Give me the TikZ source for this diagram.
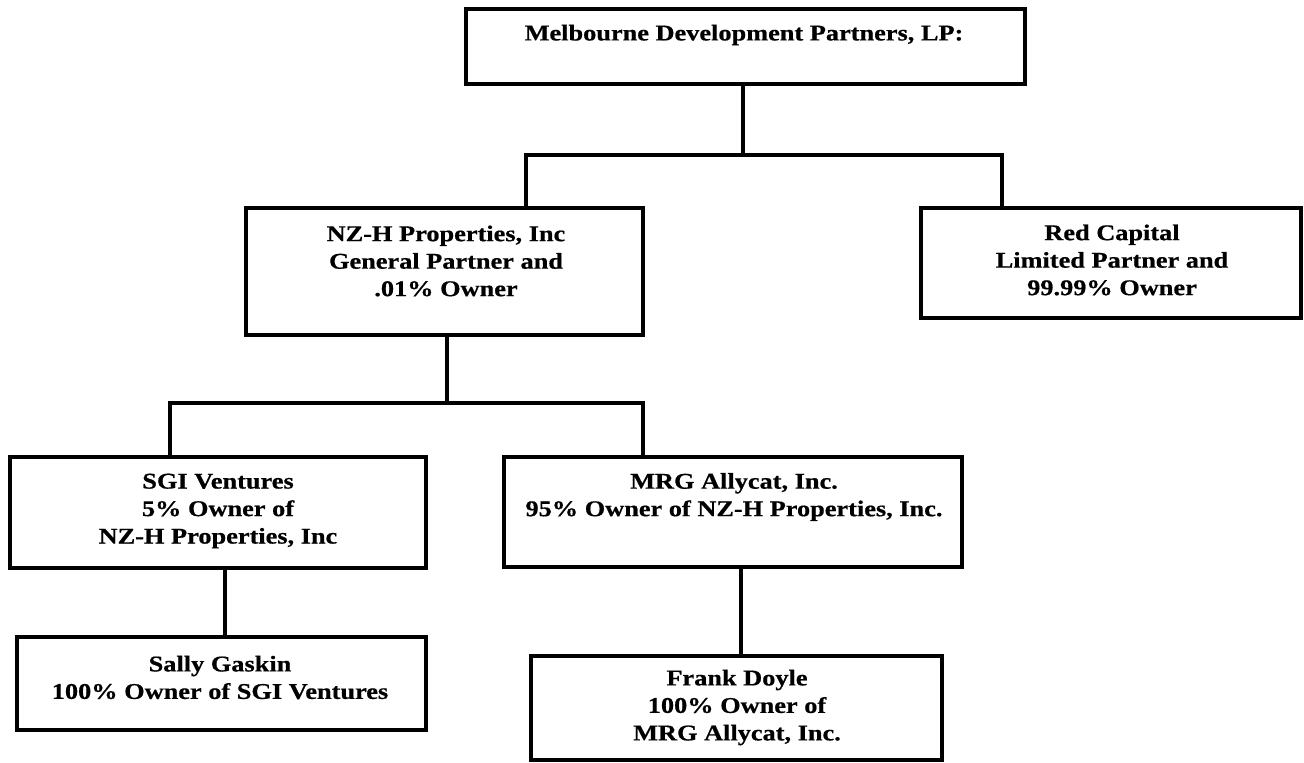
\documentclass[tikz,border=0pt]{standalone}
\usepackage{fontspec}
\setmainfont{Liberation Serif}[BoldFeatures={FakeStretch=1.17,FakeBold=0.6}]
\begin{document}
\begin{tikzpicture}[x=1pt,y=-1pt,
  box/.style={draw, line width=3.2pt, inner sep=0pt},
  lbl/.style={align=center, font=\fontsize{22.5}{27.5}\selectfont\bfseries, inner sep=0pt},
  conn/.style={line width=3.2pt}]
\useasboundingbox (0,0) rectangle (1304,763);
% boxes
\node[box, minimum width=559pt, minimum height=75pt]  (top)   at (745.5,46.5) {};
\node[box, minimum width=397pt, minimum height=127pt] (nzh)   at (444.5,271.5) {};
\node[box, minimum width=380pt, minimum height=110pt] (red)   at (1111,263) {};
\node[box, minimum width=416pt, minimum height=111pt] (sgi)   at (218,512.5) {};
\node[box, minimum width=458pt, minimum height=110pt] (mrg)   at (733,512) {};
\node[box, minimum width=409pt, minimum height=93pt]  (sally) at (221.5,683.5) {};
\node[box, minimum width=411pt, minimum height=104pt] (frank) at (736.5,708) {};
% texts
\node[lbl] (topT)   at (744,35)  {Melbourne Development Partners, LP:};
\node[lbl] (nzhT)   at (446,261) {NZ-H Properties, Inc\\General Partner and\\.01\% Owner};
\node[lbl] (redT)   at (1112,260) {Red Capital\\Limited Partner and\\99.99\% Owner};
\node[lbl] (sgiT)   at (218,511) {SGI Ventures\\5\% Owner of\\NZ-H Properties, Inc};
\node[lbl] (mrgT)   at (734,497) {MRG Allycat, Inc.\\95\% Owner of NZ-H Properties, Inc.};
\node[lbl] (sallyT) at (220,677.5) {Sally Gaskin\\100\% Owner of SGI Ventures};
\node[lbl] (frankT) at (737,707.5) {Frank Doyle\\100\% Owner of\\MRG Allycat, Inc.};
% connectors
\coordinate (j1)  at (743,155);
\coordinate (j1l) at (526,155);
\coordinate (j1r) at (1002,155);
\draw[conn] (top.south -| j1) -- (j1);
\draw[conn] (nzh.north -| j1l) -- (j1l) -- (j1r) -- (red.north -| j1r);
\coordinate (j2)  at (447,403);
\coordinate (j2l) at (170,403);
\coordinate (j2r) at (643,403);
\draw[conn] (nzh.south -| j2) -- (j2);
\draw[conn] (sgi.north -| j2l) -- (j2l) -- (j2r) -- (mrg.north -| j2r);
\coordinate (c3) at (225,600);
\draw[conn] (sgi.south -| c3) -- (sally.north -| c3);
\coordinate (c4) at (741,610);
\draw[conn] (mrg.south -| c4) -- (frank.north -| c4);
\end{tikzpicture}
\end{document}
